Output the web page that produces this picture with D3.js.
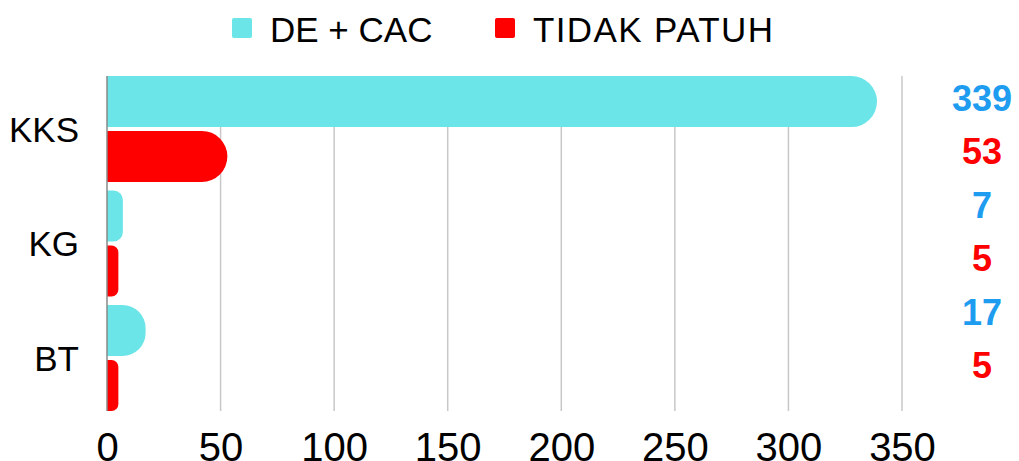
<!DOCTYPE html>
<html>
<head>
<meta charset="utf-8">
<script src="https://cdn.jsdelivr.net/npm/d3@7"></script>
<style>
  html, body { margin: 0; padding: 0; background: #fff; }
  svg { display: block; }
  text { font-family: "Liberation Sans", Arial, sans-serif; }
</style>
</head>
<body>
<svg id="chart" width="1019" height="461"></svg>
<script>
// ---- data ----
const categories = ["KKS", "KG", "BT"];
const seriesNames = ["DE + CAC", "TIDAK PATUH"];
const deCac = [339, 7, 17];
const tidakPatuh = [53, 5, 5];
const xTicks = [0, 50, 100, 150, 200, 250, 300, 350];
const seriesColors = ["#6ce5e8", "#ff0000"];
const labelColors = ["#1e9cf0", "#ff0000"];

const W = 1019, H = 461;
const svg = d3.select("#chart");

const x = d3.scaleLinear().domain([0, 350]).range([107, 902]);
const y = d3.scaleBand().domain(categories).range([71.75, 415.25]).paddingInner(0.074).paddingOuter(0.037);
const ySub = d3.scaleBand().domain(seriesNames).range([0, y.bandwidth()]).paddingInner(0.07);

const series = [deCac, tidakPatuh];
const rows = [];
categories.forEach((c, i) => {
  seriesNames.forEach((s, j) => {
    rows.push({cat: c, ser: s, si: j, value: series[j][i], key: c + "|" + s});
  });
});

// gridlines
const gTop = y.range()[0] + y.step() * y.paddingOuter();
const gBot = y.range()[1] - y.step() * y.paddingOuter();
svg.append("g").selectAll("line").data(xTicks.filter(d => d > 0)).join("line")
  .attr("x1", d => x(d)).attr("x2", d => x(d))
  .attr("y1", gTop).attr("y2", gBot)
  .attr("stroke", "#c8c8c8").attr("stroke-width", 1.5);

// bars with rounded right end
function barPath(x0, x1, y0, h) {
  const w = x1 - x0;
  const r = Math.min(h / 2, w * 0.6);
  return `M${x0},${y0}H${x1 - r}A${r},${r} 0 0 1 ${x1},${y0 + r}V${y0 + h - r}A${r},${r} 0 0 1 ${x1 - r},${y0 + h}H${x0}Z`;
}
svg.append("g").selectAll("path").data(rows).join("path")
  .attr("d", d => barPath(x(0), x(d.value), y(d.cat) + ySub(d.ser), ySub.bandwidth()))
  .attr("fill", d => seriesColors[d.si]);

// left axis
const yAxis = svg.append("g").attr("transform", `translate(${x(0)},0)`)
  .call(d3.axisLeft(y).tickSize(0).tickPadding(28));
yAxis.select(".domain").attr("stroke", "#888").attr("stroke-width", 1.5)
  .attr("d", `M0,${gTop}V${gBot}`);
yAxis.selectAll("text").attr("font-size", 35).attr("fill", "#000")
  .attr("font-family", "Liberation Sans, Arial, sans-serif").attr("dy", "0.36em");

// bottom axis
const xAxis = svg.append("g").attr("transform", `translate(0,${gBot})`)
  .call(d3.axisBottom(x).tickValues(xTicks).tickSize(0).tickFormat(d3.format("d")));
xAxis.select(".domain").remove();
xAxis.selectAll("text").attr("font-size", 40).attr("fill", "#000")
  .attr("font-family", "Liberation Sans, Arial, sans-serif")
  .attr("y", 50).attr("dy", 0);

// value labels column on the right
const labelKeys = rows.map(d => d.key);
const yLab = d3.scalePoint().domain(labelKeys).range([98, 365]);
svg.append("g").selectAll("text").data(rows).join("text")
  .attr("x", 982).attr("y", d => yLab(d.key))
  .attr("dy", "0.36em")
  .attr("text-anchor", "middle")
  .attr("font-family", "Lato, 'Open Sans', sans-serif")
  .attr("font-weight", 900)
  .attr("font-size", 36)
  .attr("fill", d => labelColors[d.si])
  .text(d => d.value);

// legend
const legendX = [232, 495];
const lg = svg.append("g").selectAll("g").data(seriesNames).join("g")
  .attr("transform", (d, i) => `translate(${legendX[i]},18)`);
lg.append("rect").attr("width", 20).attr("height", 20).attr("rx", 2)
  .attr("fill", (d, i) => seriesColors[i]);
lg.append("text").attr("x", 38).attr("y", 23.5)
  .attr("font-size", 35).attr("fill", "#000")
  .attr("textLength", (d, i) => i === 1 ? 240 : null)
  .text(d => d);
</script>
</body>
</html>
